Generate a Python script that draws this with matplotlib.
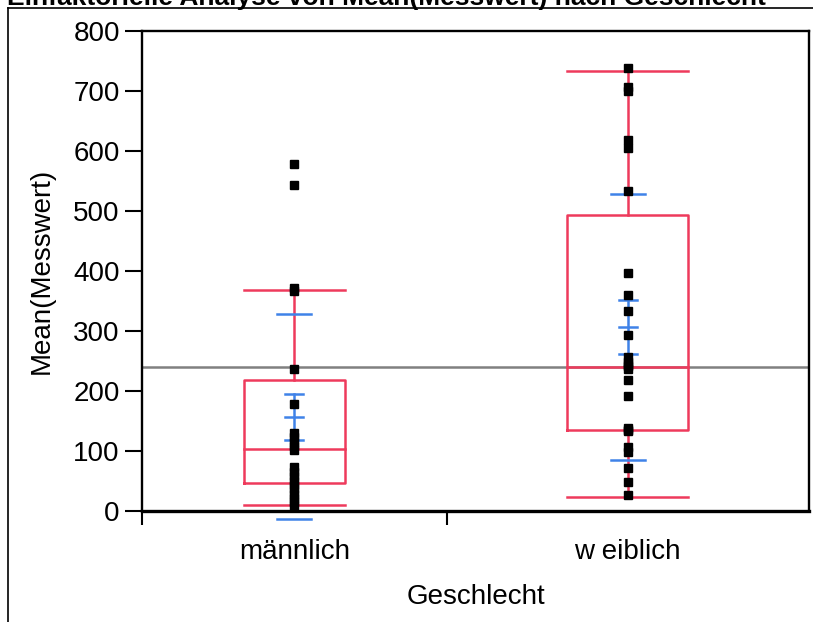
import matplotlib
matplotlib.use("Agg")
import matplotlib.pyplot as plt
from matplotlib.lines import Line2D
import numpy as np

plt.rcParams['font.family'] = ['Liberation Sans', 'DejaVu Sans']

# ---- data ----
categories = ["männlich", "w eiblich"]
male_values = [578, 543, 372, 366, 236, 178, 130, 123, 115, 108, 102,
               73, 65, 58, 50, 43, 36, 29, 22, 15, 9]
female_values = [738, 706, 700, 618, 605, 533, 396, 360, 334, 293,
                 256, 249, 243, 241, 237, 218, 192, 138, 135, 134,
                 106, 99, 71, 49, 27]
# box statistics per group (as drawn)
q1 = [46, 134.5]
median = [103, 240.5]
q3 = [218, 494]
whisker_lo = [9.5, 23]
whisker_hi = [369, 734]
means = [157, 307]
std_devs = [171, 222]
std_errs = [38, 44.5]
grand_mean = 240
y_ticks = [0, 100, 200, 300, 400, 500, 600, 700, 800]

title = "Einfaktorielle Analyse von Mean(Messwert) nach Geschlecht"
xlabel = "Geschlecht"
ylabel = "Mean(Messwert)"

RED = "#EE3A5C"
BLUE = "#3F82E8"
GRAY = "#808080"
LW = 1.8

fig = plt.figure(figsize=(8.13, 6.22), dpi=100)
ax = fig.add_axes([142 / 813, 1 - 511 / 622, (809 - 142) / 813, (511 - 31) / 622])

groups = [male_values, female_values]
counts = [len(g) for g in groups]
bounds = np.concatenate([[0], np.cumsum(counts)])
centers = (bounds[:-1] + bounds[1:]) / 2
widths = np.diff(bounds)

ax.set_xlim(bounds[0], bounds[-1])
ax.set_ylim(0, 800)

# grand mean line
ax.axhline(grand_mean, color=GRAY, lw=LW, zorder=1)

for i, vals in enumerate(groups):
    c = centers[i]
    bw = widths[i] / 3.0
    l, r = c - bw / 2, c + bw / 2
    # box
    ax.plot([l, r, r, l, l], [q1[i], q1[i], q3[i], q3[i], q1[i]], color=RED, lw=LW, zorder=2)
    ax.plot([l, r], [median[i], median[i]], color=RED, lw=LW, zorder=2)
    # whiskers
    ax.plot([c, c], [q3[i], whisker_hi[i]], color=RED, lw=LW, zorder=2)
    ax.plot([c, c], [whisker_lo[i], q1[i]], color=RED, lw=LW, zorder=2)
    ax.plot([l, r], [whisker_hi[i]] * 2, color=RED, lw=LW, zorder=2)
    ax.plot([l, r], [whisker_lo[i]] * 2, color=RED, lw=LW, zorder=2)
    # std dev lines
    sdw = 2.35
    for yv in (means[i] + std_devs[i], means[i] - std_devs[i]):
        ax.plot([c - sdw / 2, c + sdw / 2], [yv, yv], color=BLUE, lw=LW, zorder=3, clip_on=False)
    # std err bars
    sew = 1.25
    lo, hi = means[i] - std_errs[i], means[i] + std_errs[i]
    ax.plot([c, c], [lo, hi], color=BLUE, lw=LW, zorder=3)
    for yv in (lo, means[i], hi):
        ax.plot([c - sew / 2, c + sew / 2], [yv, yv], color=BLUE, lw=LW, zorder=3)
    # points
    ax.plot([c] * len(vals), vals, linestyle='none', marker='s', markersize=5.4,
            color='black', zorder=4, clip_on=False)

# axes styling
for s in ax.spines.values():
    s.set_linewidth(1.7)
    s.set_color('black')
ax.spines['bottom'].set_linewidth(2.4)

ax.set_yticks(y_ticks)
ax.set_yticklabels([str(t) for t in y_ticks])
ax.tick_params(axis='y', direction='out', length=12, width=1.5, pad=4, labelsize=20)

ax.set_xticks(bounds[:-1])
ax.set_xticklabels([])
ax.tick_params(axis='x', which='major', direction='out', length=10, width=1.5)
ax.set_xticks(centers, minor=True)
ax.set_xticklabels(categories, minor=True)
ax.tick_params(axis='x', which='minor', length=0, pad=20, labelsize=20)

ax.set_xlabel(xlabel, fontsize=20, labelpad=14)
ax.set_ylabel(ylabel, fontsize=20, labelpad=13)

# outer frame and clipped title
fig.add_artist(Line2D([7.5 / 813, 7.5 / 813], [0, 1 - 7.5 / 622], transform=fig.transFigure,
                      color='black', lw=1.2))
fig.add_artist(Line2D([7.5 / 813, 1], [1 - 7.5 / 622, 1 - 7.5 / 622], transform=fig.transFigure,
                      color='black', lw=1.2))
fig.text(7 / 813, 1 - 5 / 622, title, fontsize=19, fontweight='bold', ha='left', va='baseline')

fig.savefig("out.png", dpi=100)
